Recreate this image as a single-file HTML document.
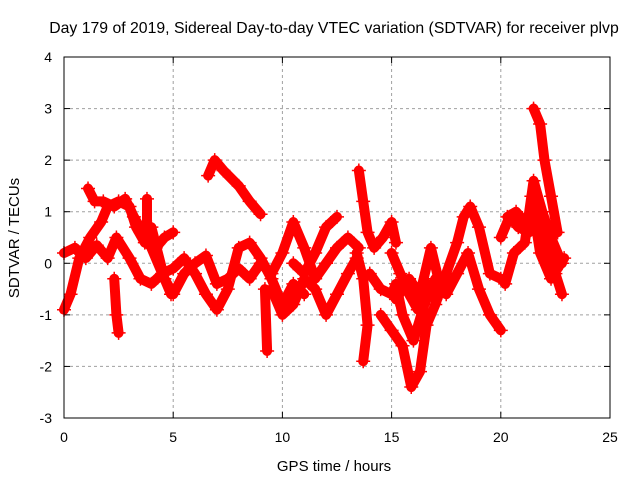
<!DOCTYPE html>
<html><head><meta charset="utf-8"><style>
body{margin:0;background:#fff}
svg{display:block;font-family:"Liberation Sans",sans-serif}
</style></head><body>
<svg id="chart" width="640" height="480">
<text x="334" y="33" text-anchor="middle" font-size="15.8">Day 179 of 2019, Sidereal Day-to-day VTEC variation (SDTVAR) for receiver plvp</text>
<text x="334" y="471" text-anchor="middle" font-size="15">GPS time / hours</text>
<text transform="translate(19,238) rotate(-90)" text-anchor="middle" font-size="15">SDTVAR / TECUs</text>
<g id="grid"></g><g id="ticks"></g><g id="marks"></g>
<rect x="64" y="57" width="546" height="361" fill="none" stroke="#000" stroke-width="1"/>
</svg>
<script>
const xTicks=[0,5,10,15,20,25];
const yTicks=[-3,-2,-1,0,1,2,3,4];
const s1=[[0,-0.9],[0.3,-0.6],[0.7,0.1],[1.2,0.5],[1.7,0.8],[2.0,1.1],[2.5,1.2],[3.0,1.1],[3.3,0.7],[3.7,0.4],[4.2,0.3],[4.6,0.5],[5.0,0.6]];
const s2=[[0,0.2],[0.5,0.3],[1,0.1],[1.5,0.35],[2,0.1],[2.4,0.5],[3,0.1],[3.5,-0.3],[4,-0.4],[4.5,-0.2],[5,-0.1],[5.5,0.1],[6,-0.2],[6.5,-0.6],[7,-0.9],[7.5,-0.5],[8,0.3],[8.5,0.4],[9,0.1],[9.5,-0.3],[10,-0.8],[10.5,-0.4],[11,-0.6]];
const s3=[[1.1,1.45],[1.4,1.2],[1.8,1.2],[2.3,1.1],[2.8,1.25],[3.2,0.9],[3.6,0.6],[4.0,0.3],[4.5,-0.2],[4.9,-0.6]];
const s4=[[6.6,1.7],[6.9,2.0],[7.3,1.8],[8,1.5],[8.5,1.2],[9,0.95]];
const s5=[[3.5,0.6],[4,0.7],[4.6,-0.3],[5,-0.6],[5.5,-0.2],[6,0],[6.5,0.15],[7,-0.4],[7.5,-0.3],[8,-0.1],[8.5,-0.3],[9,0],[9.5,-0.2],[10,0.2],[10.5,0.8],[11,0.3],[11.5,-0.3],[12,0],[12.5,0.3],[13,0.5],[13.5,0.3]];
const s6=[[9.5,-0.5],[10,-1],[10.5,-0.8],[11,-0.3],[11.5,-0.5],[12,-1],[12.5,-0.6],[13,-0.2],[13.4,0.1]];
const s7=[[10.5,0],[11,-0.2],[11.5,0.2],[12,0.7],[12.5,0.9]];
const s8=[[13.5,1.8],[13.7,1.2],[13.9,0.6],[14.2,0.3],[14.6,0.5],[15,0.8],[15.2,0.4]];
const s9=[[13.4,0.2],[13.7,-0.3],[13.9,-1.2],[13.7,-1.9]];
const s10=[[14,-0.2],[14.5,-0.5],[15,-0.6],[15.2,-0.4],[15.5,-1],[16,-1.5],[16.5,-0.8],[17,-0.3],[17.5,-0.6],[18,-0.2],[18.5,0.2],[19,-0.5],[19.5,-1],[20,-1.3]];
const s11=[[14.5,-1],[15,-1.3],[15.5,-1.6],[15.9,-2.4],[16.3,-2.1],[16.6,-1.2],[17,-0.8],[17.5,-0.2],[18,0.4],[18.3,0.9],[18.6,1.1],[19,0.7],[19.5,-0.2],[20,-0.3]];
const s12=[[15.2,-0.7],[15.8,-0.3],[16.3,-0.6],[16.8,0.3],[17.2,-0.4]];
const s13=[[20,0.5],[20.4,0.9],[20.8,0.7],[21.3,0.6],[21.8,1.0],[22.2,0.4],[22.5,-0.2],[22.8,-0.6]];
const s14=[[20.2,-0.4],[20.6,0.2],[21.1,0.4],[21.5,1.6],[21.9,1.0],[22.3,0.5],[22.8,0]];
const s15=[[21.5,3.0],[21.8,2.7],[22.0,2.0],[22.3,1.3],[22.6,0.6]];
const s16=[[21.4,1.3],[21.8,0.2],[22.3,-0.3],[22.9,0.1]];
const s17=[[2.3,-0.3],[2.4,-1.0],[2.5,-1.35]];
const s18=[[9.2,-0.5],[9.3,-1.7]];
const s19=[[3.8,1.25],[3.8,0.6]];
const s20=[[15.0,0.2],[15.4,-0.2],[15.8,-0.6],[16.2,-0.9],[16.6,-0.4],[17.0,-0.7]];
const s21=[[20.3,0.9],[20.7,1.0],[21.1,0.8],[21.5,0.9],[21.9,0.6],[22.3,0.1]];
const series=[s1,s2,s3,s4,s5,s6,s7,s8,s9,s10,s11,s12,s13,s14,s15,s16,s17,s18,s19,s20,s21];
const X=t=>64+t*546/25;
const Y=v=>418-(v+3)*361/7;
const NS='http://www.w3.org/2000/svg';
function mk(tag,attrs,parent){const e=document.createElementNS(NS,tag);for(const k in attrs)e.setAttribute(k,attrs[k]);parent.appendChild(e);return e;}
const grid=document.getElementById('grid'),ticks=document.getElementById('ticks'),marks=document.getElementById('marks');
xTicks.forEach(t=>{
 if(t>0&&t<25){const g=mk('line',{x1:X(t),x2:X(t),y1:57,y2:418,stroke:'#a0a0a0','stroke-dasharray':'3,3'},grid);
 
 }
 mk('line',{x1:X(t),x2:X(t),y1:418,y2:412,stroke:'#000'},ticks);
 mk('line',{x1:X(t),x2:X(t),y1:57,y2:63,stroke:'#000'},ticks);
 const l=mk('text',{x:X(t),y:442,'text-anchor':'middle','font-size':14},ticks);l.textContent=t;
 
 
});
yTicks.forEach(v=>{
 if(v>-3&&v<4){const g=mk('line',{x1:64,x2:610,y1:Y(v),y2:Y(v),stroke:'#a0a0a0','stroke-dasharray':'3,3'},grid);
 
 }
 mk('line',{x1:64,x2:70,y1:Y(v),y2:Y(v),stroke:'#000'},ticks);
 mk('line',{x1:604,x2:610,y1:Y(v),y2:Y(v),stroke:'#000'},ticks);
 const l=mk('text',{x:52,y:Y(v)+5,'text-anchor':'end','font-size':14},ticks);l.textContent=v;
 
 
});
series.forEach((s,i)=>{
 const p=mk('polyline',{points:s.map(d=>X(d[0])+','+Y(d[1])).join(' '),fill:'none',stroke:'#ff0000','stroke-width':10,'stroke-linejoin':'round','stroke-linecap':'round'},marks);
 
 
 s.forEach(d=>{const x=X(d[0]),y=Y(d[1]);
  const m=mk('path',{d:`M${x-7},${y}H${x+7}M${x},${y-7}V${y+7}`,stroke:'#ff0000','stroke-width':1.5},marks);
  
  
 });
});
</script>
</body></html>
